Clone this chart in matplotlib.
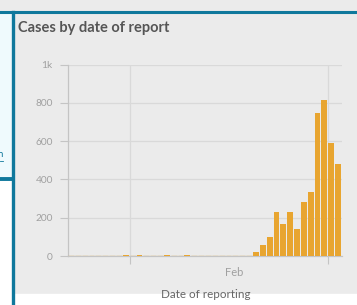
import datetime as dt
import matplotlib
matplotlib.use("Agg")
import matplotlib.pyplot as plt
import matplotlib.dates as mdates
from matplotlib.patches import Rectangle
from matplotlib.lines import Line2D

# daily cases, 23 Jan 2020 .. 2 Mar 2020
start = dt.date(2020, 1, 23)
cases = [0, 0, 0, 0, 0, 0, 0, 0, 7,          # Jan 23-31
         0, 7, 0, 0, 0, 7, 0, 0, 6, 0,       # Feb 1-10
         0, 0, 0, 0, 0, 0, 0, 0,             # Feb 11-18
         22, 56, 101, 232, 169, 232, 143, 284, 336, 746, 814,  # Feb 19-29
         589, 479]                           # Mar 1-2
days = [start + dt.timedelta(days=i) for i in range(len(cases))]
yticks = [0, 200, 400, 600, 800, 1000]
ylabels = ["0", "200", "400", "600", "800", "1k"]

W, H = 357, 305
plt.rcParams['font.family'] = ['Lato', 'DejaVu Sans']
fig = plt.figure(figsize=(W / 100, H / 100), dpi=100)
fig.patch.set_facecolor("#ebebeb")

def px(x, y):
    return x / W, 1 - y / H

teal = "#0f789c"
# surrounding page bits
fig.patches.append(Rectangle(px(0, H), 1, 11 / H, transform=fig.transFigure, color="white", zorder=0))
fig.patches.append(Rectangle(px(0, H), 12 / W, 1 - 12 / H, transform=fig.transFigure, color="white", zorder=0))
fig.patches.append(Rectangle(px(0, 179), 12 / W, 167 / H, transform=fig.transFigure, color="#effafd", zorder=0))
fig.lines.append(Line2D([0, 1], [px(0, 12)[1]] * 2, transform=fig.transFigure, color=teal, lw=2.2))
fig.lines.append(Line2D([px(13, 0)[0]] * 2, [0, px(0, 12)[1]], transform=fig.transFigure, color=teal, lw=2.4))
fig.lines.append(Line2D([0, px(13, 0)[0]], [px(0, 179)[1]] * 2, transform=fig.transFigure, color=teal, lw=2.8))
fig.lines.append(Line2D([0, px(3, 0)[0]], [px(0, 161)[1]] * 2, transform=fig.transFigure, color=teal, lw=0.6))
fig.text(*px(3, 154), "n", ha="right", va="center", fontsize=7, color=teal)

fig.text(*px(18, 28), "Cases by date of report", ha="left", va="center",
         fontsize=10.5, fontweight="bold", color="#555555")

l, b = px(68, 256)
r, t = px(342, 64.7)
ax = fig.add_axes([l, b, r - l, t - b])
ax.set_facecolor("#ebebeb")

bar_col = "#e8a530"
# zero days still show as a thin orange stub on the baseline
edges = [bar_col if c == 0 else "none" for c in cases]
ax.bar(days, cases, width=0.86, align="edge", color=bar_col,
       edgecolor=edges, linewidth=0.9, zorder=3)

ax.set_ylim(0, 1000)
ax.set_xlim(start, start + dt.timedelta(days=len(cases)))
ax.set_yticks(yticks)
ax.set_yticklabels(ylabels)
ax.grid(axis="y", color="#d9d9d9", lw=0.9, zorder=0)

ax.xaxis.set_major_locator(mdates.DayLocator(bymonthday=1))
ax.xaxis.set_major_formatter(plt.NullFormatter())
ax.set_xticks([mdates.date2num(dt.datetime(2020, 2, 16, 8))], ["Feb"], minor=True)
ax.grid(axis="x", which="major", color="#d9d9d9", lw=0.9, zorder=0)

ax.tick_params(axis="y", length=6, width=0.8, color="#c4c4c4", labelsize=7.3,
               labelcolor="#a0a0a0", pad=5)
ax.tick_params(axis="x", which="major", length=6, width=0.8, color="#c4c4c4")
ax.tick_params(axis="x", which="minor", length=0, labelsize=8,
               labelcolor="#a0a0a0", pad=8)

for s in ["top", "right"]:
    ax.spines[s].set_visible(False)
for s in ["left", "bottom"]:
    ax.spines[s].set_color("#c4c4c4")
    ax.spines[s].set_linewidth(0.9)

fig.text(*px(205.5, 295), "Date of reporting", ha="center", va="center",
         fontsize=8.4, color="#666666")

fig.savefig("out.png", dpi=100, facecolor=fig.get_facecolor())
